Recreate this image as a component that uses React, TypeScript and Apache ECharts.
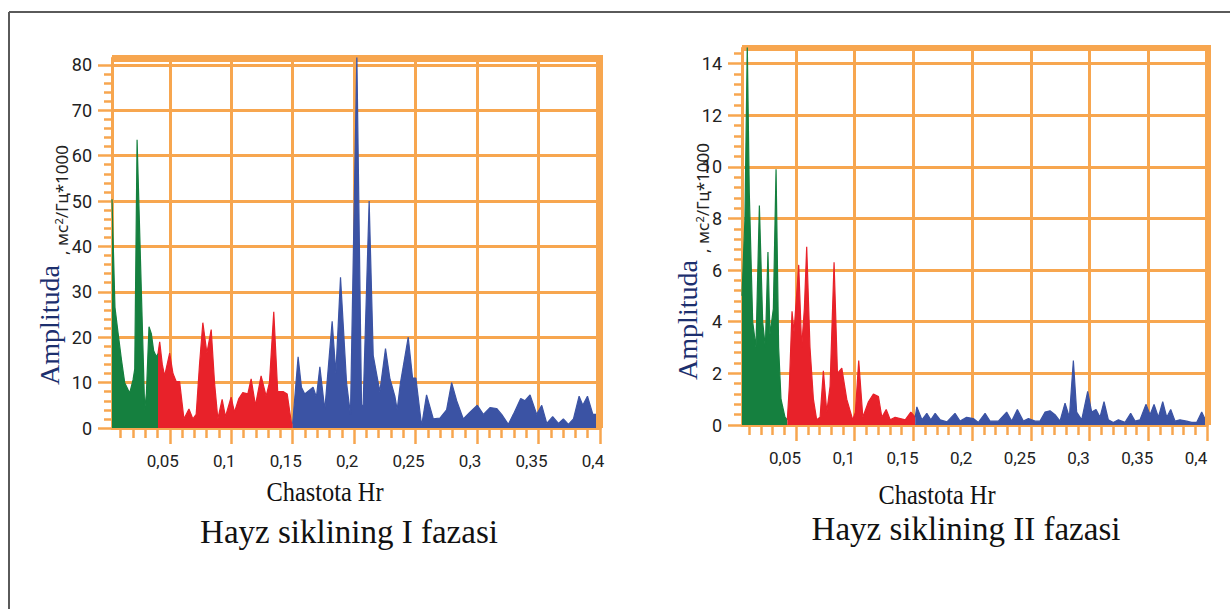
import React, { useEffect, useRef } from 'react';
import * as echarts from 'echarts';

const ORANGE = '#F7A64F';
const GREEN = '#15803F';
const RED = '#E8222A';
const BLUE = '#3B53A4';

// tick labels
const xMajorTicks = [0.05, 0.1, 0.15, 0.2, 0.25, 0.3, 0.35, 0.4];
const leftYMajor = [0, 10, 20, 30, 40, 50, 60, 70, 80];
const rightYMajor = [0, 2, 4, 6, 8, 10, 12, 14];

// Phase I (left) spectrum: [frequency Hz, amplitude]
const leftVLF = [[0.003, 50.4], [0.0054, 26.6], [0.008, 20.8], [0.0107, 15], [0.0134, 9.9], [0.0161, 8.4], [0.0174, 7.7], [0.0201, 10.6], [0.0215, 13], [0.0234, 63.5], [0.0296, 4], [0.031, 7.7], [0.0331, 22.3], [0.035, 20.8], [0.0369, 17], [0.0391, 15.7], [0.0404, 16.4]];
const leftLF = [[0.0404, 16.4], [0.0418, 19], [0.0439, 14], [0.0458, 11.5], [0.0499, 16.5], [0.0526, 12], [0.0553, 10.2], [0.058, 10.2], [0.0615, 2], [0.0656, 4.2], [0.0688, 2], [0.0715, 3], [0.0742, 14], [0.0769, 23.2], [0.0802, 16.5], [0.0837, 21.7], [0.0864, 10], [0.0891, 2], [0.0926, 6.3], [0.0953, 2.5], [0.0999, 6.8], [0.1026, 3.5], [0.1062, 6.5], [0.1094, 7.8], [0.1135, 7.5], [0.1162, 10.8], [0.1197, 5], [0.1243, 11.5], [0.1284, 7], [0.1311, 10], [0.1346, 25.6], [0.1378, 8], [0.1425, 8], [0.1455, 7.5], [0.149, 1], [0.15, 1]];
const leftHF = [[0.15, 1], [0.1544, 15.7], [0.1571, 9], [0.1598, 7.5], [0.1666, 9], [0.1693, 6.8], [0.1721, 13.5], [0.1761, 4], [0.1821, 23.5], [0.1851, 12], [0.1889, 33.2], [0.1938, 10], [0.197, 3], [0.2022, 82], [0.206, 5], [0.2073, 5], [0.2122, 50], [0.2155, 16], [0.2182, 12], [0.2209, 8], [0.2255, 17.5], [0.229, 11], [0.2331, 7], [0.235, 4], [0.2377, 10], [0.244, 20], [0.2475, 11], [0.2502, 11], [0.2549, 0.5], [0.2589, 7.3], [0.2644, 2], [0.2698, 2.2], [0.2752, 4], [0.2793, 10], [0.2834, 6], [0.2888, 2], [0.2942, 3.5], [0.3002, 5], [0.3051, 3], [0.3105, 4.5], [0.3159, 4.3], [0.32, 3], [0.3254, 0.8], [0.3295, 3], [0.3355, 6.5], [0.339, 6], [0.3431, 7.3], [0.3485, 3], [0.3526, 5], [0.3567, 1], [0.3615, 2.5], [0.3662, 1], [0.3702, 2], [0.3743, 0.8], [0.3784, 2], [0.383, 7], [0.386, 5], [0.3898, 7], [0.3942, 3], [0.3988, 3], [0.4, 1]];

// Phase II (right) spectrum
const rightVLF = [[0.004, 5], [0.0065, 8], [0.0085, 14.7], [0.0102, 9], [0.0131, 4], [0.0159, 3], [0.0188, 8.5], [0.0216, 4], [0.0239, 3], [0.0261, 6.7], [0.0278, 3.5], [0.0307, 4.5], [0.033, 9.9], [0.0352, 3], [0.0372, 1], [0.0406, 0.3], [0.0426, 0.2]];
const rightLF = [[0.0426, 0.2], [0.0443, 1.5], [0.0466, 4.4], [0.0483, 3.6], [0.0523, 6.2], [0.0548, 3], [0.0571, 4.5], [0.0591, 6.9], [0.0619, 3], [0.0648, 1], [0.0676, 0.2], [0.0705, 0.3], [0.0733, 2.1], [0.0762, 0.5], [0.079, 1.5], [0.0824, 6.3], [0.0853, 2], [0.089, 2.2], [0.0932, 1], [0.0983, 0.2], [0.1006, 0.5], [0.1034, 2.5], [0.1069, 0.3], [0.1117, 0.9], [0.1159, 1.2], [0.1202, 1.1], [0.1231, 0.3], [0.1268, 0.6], [0.1302, 0.2], [0.1344, 0.3], [0.1387, 0.25], [0.143, 0.2], [0.1478, 0.5], [0.1515, 0.3]];
const rightHF = [[0.1515, 0.3], [0.1529, 0.7], [0.1572, 0.2], [0.1614, 0.45], [0.1648, 0.2], [0.1685, 0.45], [0.1728, 0.2], [0.1785, 0.12], [0.1854, 0.45], [0.1897, 0.15], [0.1953, 0.3], [0.201, 0.25], [0.2053, 0.1], [0.211, 0.45], [0.2152, 0.15], [0.2223, 0.15], [0.2294, 0.5], [0.2337, 0.15], [0.2385, 0.6], [0.2436, 0.15], [0.2479, 0.25], [0.2536, 0.15], [0.2578, 0.15], [0.2621, 0.5], [0.2663, 0.55], [0.2706, 0.4], [0.2748, 0.15], [0.2791, 0.85], [0.2828, 0.3], [0.2862, 2.5], [0.289, 0.5], [0.2933, 0.2], [0.2984, 1.3], [0.3018, 0.5], [0.3055, 0.6], [0.3089, 0.3], [0.3123, 0.9], [0.316, 0.2], [0.3202, 0.1], [0.3245, 0.2], [0.3302, 0.1], [0.335, 0.45], [0.3387, 0.15], [0.343, 0.2], [0.348, 0.8], [0.3515, 0.4], [0.3549, 0.8], [0.3586, 0.3], [0.3623, 0.9], [0.3657, 0.3], [0.3691, 0.6], [0.3728, 0.15], [0.377, 0.2], [0.3827, 0.15], [0.3869, 0.1], [0.3912, 0.1], [0.3955, 0.5], [0.3997, 0.1]];

const titles = ['Hayz siklining I fazasi', 'Hayz siklining II fazasi'];
const xName = 'Chastota Hr';

// minor tick positions (not data)
function minorTicks(step: number, sub: number, max: number) {
  const out: number[] = [];
  for (let i = 1; i * sub <= max + 1e-9; i++) {
    const v = Math.round(i * sub * 1e6) / 1e6;
    if (Math.abs(v / step - Math.round(v / step)) > 1e-6) out.push(v);
  }
  return out;
}

const LABEL_FONT = "'Liberation Sans Narrow', Roboto, sans-serif";

function xAxesFor(grid: number, min: number, shift: number) {
  return [
    {
      type: 'value', gridIndex: grid, position: 'bottom', min, max: 0.4, splitNumber: 8,
      axisLine: { show: true, lineStyle: { color: ORANGE, width: 3 } },
      axisTick: { show: true, customValues: xMajorTicks, length: 16, lineStyle: { color: ORANGE, width: 2.5 } },
      axisLabel: {
        show: true, customValues: xMajorTicks, margin: 24, color: '#222', fontSize: 17, fontFamily: LABEL_FONT,
        padding: [0, shift * 2, 0, 0],
        formatter: (v: number) => String(v).replace('.', ','),
      },
      splitLine: { show: true, lineStyle: { color: ORANGE, width: 3 } },
    },
    {
      type: 'value', gridIndex: grid, position: 'bottom', min, max: 0.4, splitNumber: 8,
      axisLine: { show: false },
      axisTick: { show: true, customValues: minorTicks(0.05, 0.01, 0.4), length: 10, lineStyle: { color: ORANGE, width: 2.5 } },
      axisLabel: { show: false },
      splitLine: { show: false },
    },
  ];
}

function yAxesFor(grid: number, max: number, majors: number[], step: number, sub: number) {
  return [
    {
      type: 'value', gridIndex: grid, position: 'left', min: 0, max, interval: step,
      axisLine: { show: true, lineStyle: { color: ORANGE, width: 3 } },
      axisTick: { show: true, customValues: majors, length: 14, lineStyle: { color: ORANGE, width: 2.5 } },
      axisLabel: { show: true, customValues: majors, margin: 20, color: '#222', fontSize: 18, fontFamily: LABEL_FONT },
      splitLine: { show: true, lineStyle: { color: ORANGE, width: 3 } },
    },
    {
      type: 'value', gridIndex: grid, position: 'left', offset: 0, min: 0, max, interval: step,
      axisLine: { show: false },
      axisTick: { show: true, customValues: minorTicks(step, sub, max), length: 8, lineStyle: { color: ORANGE, width: 2.5 } },
      axisLabel: { show: false },
      splitLine: { show: false },
    },
  ];
}

function areaSeries(data: number[][], color: string, xi: number, yi: number) {
  return {
    type: 'line', data, xAxisIndex: xi, yAxisIndex: yi, symbol: 'none', smooth: false,
    lineStyle: { color, width: 1.2 }, itemStyle: { color },
    areaStyle: { color, opacity: 1 }, z: 3,
  };
}

function yNameTexts(cx: number, cy: number, sx: number, sy: number) {
  return [
    {
      type: 'text', x: cx, y: cy, rotation: Math.PI / 2, z: 10,
      style: { text: 'Amplituda', font: "28px 'Liberation Serif'", fill: '#1c2f6e', align: 'center', verticalAlign: 'middle' },
    },
    {
      type: 'text', x: sx, y: sy, rotation: Math.PI / 2, z: 10,
      style: {
        text: '{s|, мс}{p|2}{s|/Гц*1000}', align: 'center', verticalAlign: 'middle',
        rich: {
          s: { fontSize: 17, fontFamily: "'Noto Sans'", fill: '#222' },
          p: { fontSize: 11, fontFamily: "'Noto Sans'", fill: '#222', verticalAlign: 'top' },
        },
      },
    },
  ];
}

export default function App() {
  const ref = useRef<HTMLDivElement>(null);
  useEffect(() => {
    document.body.style.margin = '0';
    const chart = echarts.init(ref.current!, null, { renderer: 'svg' });
    const option: any = {
      animation: false,
      backgroundColor: '#ffffff',
      grid: [
        { left: 112, top: 58, width: 488, height: 370 },
        { left: 742, top: 48, width: 465, height: 377 },
      ],
      xAxis: [...xAxesFor(0, 0.003, 7), ...xAxesFor(1, 0.004, 11)],
      yAxis: [...yAxesFor(0, 81.5, leftYMajor, 10, 2), ...yAxesFor(1, 14.6, rightYMajor, 2, 0.4)],
      series: [
        areaSeries(leftVLF, GREEN, 0, 0),
        areaSeries(leftLF, RED, 0, 0),
        areaSeries(leftHF, BLUE, 0, 0),
        areaSeries(rightVLF, GREEN, 2, 2),
        areaSeries(rightLF, RED, 2, 2),
        areaSeries(rightHF, BLUE, 2, 2),
      ],
      graphic: [
        { type: 'line', shape: { x1: 9, y1: 12, x2: 1230, y2: 12 }, style: { stroke: '#5a5a5a', lineWidth: 2 } },
        { type: 'line', shape: { x1: 9, y1: 12, x2: 9, y2: 609 }, style: { stroke: '#5a5a5a', lineWidth: 2 } },
        // plot frame borders (top and right, thick)
        { type: 'rect', shape: { x: 112, y: 55, width: 491, height: 7 }, style: { fill: ORANGE }, z: 1 },
        { type: 'rect', shape: { x: 596, y: 55, width: 7, height: 373 }, style: { fill: ORANGE }, z: 5 },
        { type: 'rect', shape: { x: 742, y: 45, width: 469, height: 6 }, style: { fill: ORANGE }, z: 1 },
        { type: 'rect', shape: { x: 1205, y: 45, width: 6, height: 380 }, style: { fill: ORANGE }, z: 5 },
        ...yNameTexts(49, 325, 61, 200),
        ...yNameTexts(687, 320, 702, 198),
        {
          type: 'text', x: 325, y: 492, scaleX: 0.87, z: 10,
          style: { text: xName, font: "28px 'Liberation Serif'", fill: '#111', align: 'center', verticalAlign: 'middle' },
        },
        {
          type: 'text', x: 937, y: 495, scaleX: 0.87, z: 10,
          style: { text: xName, font: "28px 'Liberation Serif'", fill: '#111', align: 'center', verticalAlign: 'middle' },
        },
        {
          type: 'text', x: 349, y: 532, z: 10,
          style: { text: titles[0], font: "33px 'Liberation Serif'", fill: '#111', align: 'center', verticalAlign: 'middle' },
        },
        {
          type: 'text', x: 966, y: 529, z: 10,
          style: { text: titles[1], font: "33px 'Liberation Serif'", fill: '#111', align: 'center', verticalAlign: 'middle' },
        },
      ],
    };
    chart.setOption(option);
    return () => chart.dispose();
  }, []);
  return <div ref={ref} style={{ width: 1230, height: 609 }} />;
}
